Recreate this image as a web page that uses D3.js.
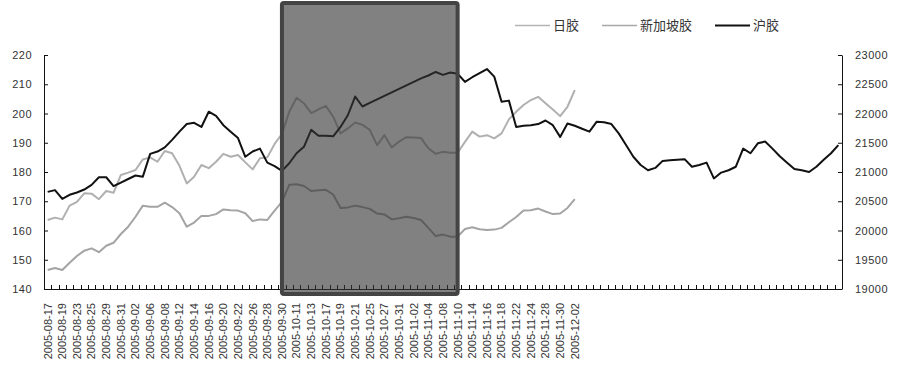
<!DOCTYPE html>
<html><head><meta charset="utf-8">
<script src="https://cdn.jsdelivr.net/npm/d3@7"></script>
<style>
html,body{margin:0;padding:0;background:#fff;}
svg{display:block;}
</style></head>
<body>
<svg id="chart" width="900" height="377"></svg>
<script>
// ---- data ----
const dates = ["2005-08-17","2005-08-18","2005-08-19","2005-08-22","2005-08-23","2005-08-24","2005-08-25","2005-08-26","2005-08-29","2005-08-30","2005-08-31",
"2005-09-01","2005-09-02","2005-09-05","2005-09-06","2005-09-07","2005-09-08","2005-09-09","2005-09-12","2005-09-13","2005-09-14","2005-09-15","2005-09-16","2005-09-19","2005-09-20","2005-09-21","2005-09-22","2005-09-23","2005-09-26","2005-09-27","2005-09-28","2005-09-29","2005-09-30",
"2005-10-10","2005-10-11","2005-10-12","2005-10-13","2005-10-14","2005-10-17","2005-10-18","2005-10-19","2005-10-20","2005-10-21","2005-10-24","2005-10-25","2005-10-26","2005-10-27","2005-10-28","2005-10-31",
"2005-11-01","2005-11-02","2005-11-03","2005-11-04","2005-11-07","2005-11-08","2005-11-09","2005-11-10","2005-11-11","2005-11-14","2005-11-15","2005-11-16","2005-11-17","2005-11-18","2005-11-21","2005-11-22","2005-11-23","2005-11-24","2005-11-25","2005-11-28","2005-11-29","2005-11-30",
"2005-12-01","2005-12-02"];

// 日胶 (left axis)
const rijiao = [163.6,164.4,163.8,168.5,169.8,172.7,172.6,170.7,173.5,172.9,179.0,179.8,180.7,184.3,185.0,183.5,187.2,186.4,182.1,176.1,178.4,182.4,181.3,183.5,186.2,185.2,185.8,183.3,180.9,184.7,185.0,189.6,193.0,
200.6,205.4,203.5,200.1,201.4,202.6,198.9,193.2,194.9,196.9,196.1,194.4,189.2,192.6,188.4,190.4,191.9,191.8,191.6,188.1,186.2,186.9,186.6,186.6,
190.3,193.8,192.1,192.6,191.5,193.2,198.0,200.6,202.9,204.6,205.7,203.5,201.4,199.1,202.3,208.0];

// 新加坡胶 (left axis)
const singapore = [146.5,147.2,146.5,149.0,151.3,153.1,153.9,152.6,154.8,155.8,158.8,161.3,164.7,168.5,168.1,168.1,169.5,168.0,165.9,161.3,162.7,165.0,165.0,165.6,167.2,166.9,166.8,165.9,163.2,163.8,163.6,166.8,169.8,
175.6,175.8,175.2,173.5,173.8,173.9,172.3,167.7,167.9,168.5,168.0,167.4,165.8,165.5,163.8,164.2,164.7,164.3,163.6,160.9,158.1,158.6,157.9,157.9,
160.5,161.1,160.4,160.2,160.3,160.9,162.8,164.6,166.8,166.9,167.5,166.5,165.6,165.8,167.7,170.7];

// 沪胶 (right axis)
const hujiao = [20660,20690,20540,20610,20650,20700,20780,20910,20910,20760,20820,20880,20940,20920,21310,21350,21420,21550,21690,21820,21840,21770,22030,21960,21800,21690,21580,21260,21350,21400,21160,21100,21020,
21150,21320,21430,21720,21620,21620,21610,21770,21970,22290,22120,22180,22240,22300,22360,22420,22480,22540,22600,22650,22710,22660,22700,22680,
22540,22620,22690,22760,22630,22200,22220,21770,21790,21800,21820,21880,21800,21600,21830,21790,21740,21690,21860,21850,21820,21660,21460,21260,21120,21030,21070,21190,21200,21210,21220,21090,21120,21160,20890,20990,21030,21090,21400,21320,21490,21520,21400,21270,21160,21050,21030,21000,21090,21210,21320,21460];

const leftTicks = [140,150,160,170,180,190,200,210,220];
const rightTicks = [19000,19500,20000,20500,21000,21500,22000,22500,23000];
const seriesNames = ["日胶","新加坡胶","沪胶"];
const highlightStart = "2005-09-30";
const highlightEnd = "2005-11-10";

// ---- layout ----
const L = 44, R = 842, T = 55, B = 289;
const svg = d3.select("#chart");
const fontLat = "'Liberation Sans', Arial, sans-serif";
const fontCJK = "'Noto Sans CJK SC', sans-serif";

const x = d3.scaleBand().domain(d3.range(hujiao.length)).range([L, R]).paddingInner(0).paddingOuter(0);
const cx = i => x(i) + x.bandwidth() / 2;
const yL = d3.scaleLinear().domain([140, 220]).range([B, T]);
const yR = d3.scaleLinear().domain([19000, 23000]).range([B, T]);

// axes
const gL = svg.append("g").attr("transform", `translate(${L},0)`)
  .call(d3.axisLeft(yL).tickValues(leftTicks).tickFormat(d3.format("d")).tickSizeInner(-4).tickSizeOuter(0).tickPadding(12));
const gR = svg.append("g").attr("transform", `translate(${R},0)`)
  .call(d3.axisRight(yR).tickValues(rightTicks).tickFormat(d3.format("d")).tickSizeInner(-4).tickSizeOuter(0).tickPadding(13));
[gL, gR].forEach(g => {
  g.select(".domain").attr("stroke", "#111").attr("stroke-width", 1);
  g.selectAll(".tick line").attr("stroke", "#111");
  g.selectAll("text").attr("font-family", fontLat).attr("font-size", 11).attr("fill", "#333").attr("letter-spacing", 0.5);
});

// x axis
const gX = svg.append("g");
gX.append("line").attr("x1", L).attr("x2", R).attr("y1", B + 0.5).attr("y2", B + 0.5).attr("stroke", "#111");
gX.selectAll("line.tk").data(d3.range(hujiao.length + 1)).join("line").attr("class", "tk")
  .attr("x1", i => Math.round(L + i * x.step()) + 0.5).attr("x2", i => Math.round(L + i * x.step()) + 0.5)
  .attr("y1", B).attr("y2", B - 4).attr("stroke", "#111");
gX.selectAll("text").data(dates.map((d, i) => ({d, i})).filter(o => o.i % 2 === 0)).join("text")
  .attr("transform", o => `translate(${cx(o.i)},303) rotate(-90)`)
  .attr("text-anchor", "end").attr("dy", "0.35em")
  .attr("font-family", fontLat).attr("font-size", 11).attr("fill", "#333")
  .text(o => o.d);

// lines
const lineL = d3.line().x((d, i) => cx(i)).y(d => yL(d));
const lineR = d3.line().x((d, i) => cx(i)).y(d => yR(d));
svg.append("path").datum(rijiao).attr("d", lineL).attr("fill", "none").attr("stroke", "#b0b0b0").attr("stroke-width", 2).attr("stroke-linejoin", "round");
svg.append("path").datum(singapore).attr("d", lineL).attr("fill", "none").attr("stroke", "#a4a4a4").attr("stroke-width", 2).attr("stroke-linejoin", "round");
svg.append("path").datum(hujiao).attr("d", lineR).attr("fill", "none").attr("stroke", "#111").attr("stroke-width", 2).attr("stroke-linejoin", "round");

// highlight box
const i0 = dates.indexOf(highlightStart), i1 = dates.indexOf(highlightEnd);
svg.append("rect")
  .attr("x", cx(i0)).attr("y", 3)
  .attr("width", cx(i1) - cx(i0)).attr("height", 291)
  .attr("rx", 2)
  .attr("fill", "#333").attr("fill-opacity", 0.62)
  .attr("stroke", "#444").attr("stroke-width", 4);

// legend
const legend = [
  {name: seriesNames[0], color: "#b4b4b4", x: 515},
  {name: seriesNames[1], color: "#a8a8a8", x: 602},
  {name: seriesNames[2], color: "#111", x: 715}
];
const lg = svg.append("g");
legend.forEach(o => {
  lg.append("line").attr("x1", o.x).attr("x2", o.x + 35).attr("y1", 25.5).attr("y2", 25.5).attr("stroke", o.color).attr("stroke-width", o.color === "#111" ? 2 : 1.5);
  lg.append("text").attr("x", o.x + 38).attr("y", 25).attr("dy", "0.35em")
    .attr("font-family", fontCJK).attr("font-size", 13).attr("fill", "#333").text(o.name);
});
</script>
</body></html>
